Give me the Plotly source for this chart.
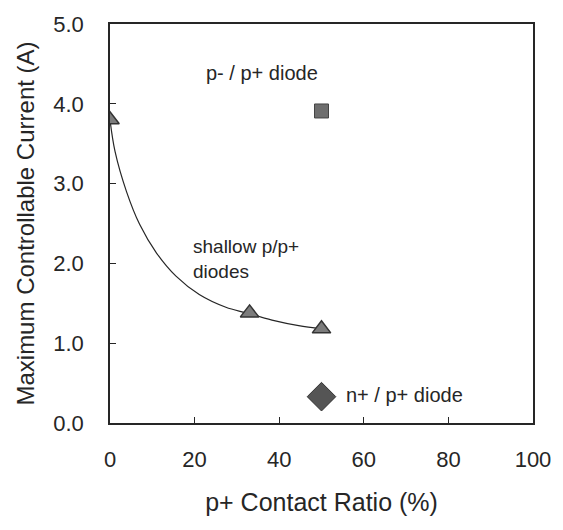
import plotly.graph_objects as go

# Data
shallow_x = [0, 33, 50]
shallow_y = [3.8, 1.38, 1.18]

fit_x = [0, 1.2, 3.9, 7.0, 11.0, 15.6, 21.1, 27.4, 32.1, 38.3, 44.6, 50]
fit_y = [3.8, 3.40, 2.90, 2.49, 2.13, 1.84, 1.61, 1.45, 1.38, 1.29, 1.22, 1.18]

pminus_x = [50]
pminus_y = [3.91]

nplus_x = [50]
nplus_y = [0.33]

x_ticks = [0, 20, 40, 60, 80, 100]
y_ticks = [0, 1, 2, 3, 4, 5]
y_tick_labels = ["0.0", "1.0", "2.0", "3.0", "4.0", "5.0"]

FONT = "Liberation Sans, Arial, sans-serif"
INK = "#262626"

fig = go.Figure()
fig.add_trace(go.Scatter(x=fit_x, y=fit_y, mode="lines", line=dict(color=INK, width=1.2, shape="spline"),
                         showlegend=False, hoverinfo="skip"))
fig.add_trace(go.Scatter(x=shallow_x, y=shallow_y, mode="markers",
                         marker=dict(symbol="triangle-up", size=16, color="#7c7c7c",
                                     line=dict(color="#333333", width=1.5)), showlegend=False))
fig.add_trace(go.Scatter(x=pminus_x, y=pminus_y, mode="markers",
                         marker=dict(symbol="square", size=14, color="#6e6e6e",
                                     line=dict(color="#444444", width=1)), showlegend=False))
fig.add_trace(go.Scatter(x=nplus_x, y=nplus_y, mode="markers",
                         marker=dict(symbol="diamond", size=22, color="#555555",
                                     line=dict(color="#333333", width=1)), showlegend=False))

fig.add_annotation(x=35.9, y=4.38, text="p- / p+ diode", showarrow=False,
                   font=dict(size=20, color=INK, family=FONT))
fig.add_annotation(x=19.2, y=2.05, text="shallow p/p+<br>diodes", showarrow=False, xanchor="left", align="left",
                   font=dict(size=19, color=INK, family=FONT))
fig.add_annotation(x=55.2, y=0.35, text="n+ / p+ diode", showarrow=False, xanchor="left",
                   font=dict(size=20, color=INK, family=FONT))

fig.update_layout(
    width=563, height=530,
    margin=dict(l=110, r=27, t=15, b=107),
    paper_bgcolor="white", plot_bgcolor="white",
    font=dict(family=FONT, color=INK, size=20),
)
fig.update_xaxes(range=[0, 100], tickvals=x_ticks, ticks="inside", ticklen=6, tickcolor=INK,
                 showline=True, linecolor=INK, linewidth=1.5, mirror=True, showgrid=False, zeroline=False,
                 tickfont=dict(size=22), ticklabelstandoff=16,
                 title=dict(text="p+ Contact Ratio (%)", font=dict(size=25), standoff=22))
fig.update_yaxes(range=[0, 5], tickvals=y_ticks, ticktext=y_tick_labels, ticks="inside", ticklen=6, tickcolor=INK,
                 showline=True, linecolor=INK, linewidth=1.5, mirror=True, showgrid=False, zeroline=False,
                 tickfont=dict(size=22), ticklabelstandoff=20,
                 title=dict(text="Maximum Controllable Current (A)", font=dict(size=24), standoff=12))

fig.write_html("out.html")
